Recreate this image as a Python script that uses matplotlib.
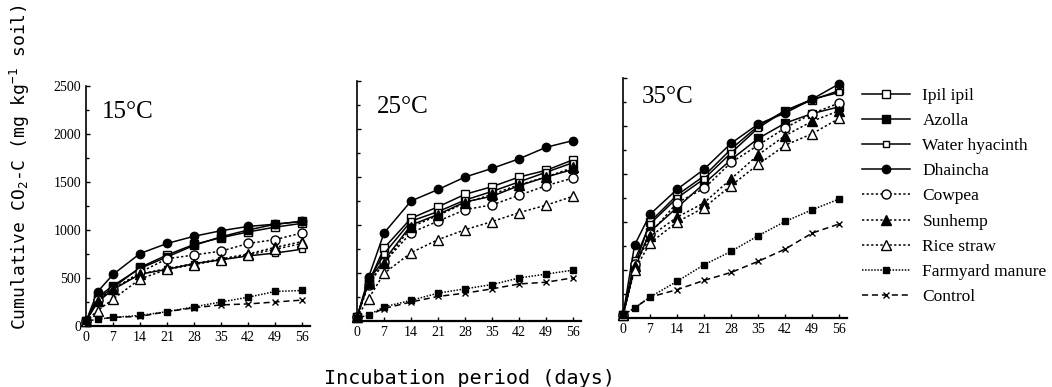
import matplotlib
matplotlib.use("Agg")
import matplotlib.pyplot as plt
from matplotlib.ticker import MultipleLocator

# sampling days
days = [0, 3, 7, 14, 21, 28, 35, 42, 49, 56]
temps = ["15°C", "25°C", "35°C"]

# cumulative CO2-C (mg kg-1 soil), one list per temperature
ipil_ipil = [
    [50, 280, 400, 610, 740, 850, 920, 980, 1030, 1070],
    [40, 400, 760, 1070, 1190, 1320, 1400, 1500, 1570, 1680],
    [30, 540, 1000, 1280, 1480, 1760, 2000, 2160, 2270, 2370],
]
azolla = [
    [50, 300, 420, 600, 720, 840, 930, 1000, 1060, 1090],
    [40, 430, 630, 1000, 1110, 1240, 1300, 1410, 1500, 1580],
    [30, 520, 900, 1150, 1400, 1650, 1870, 2030, 2130, 2200],
]
water_hyacinth = [
    [50, 250, 380, 540, 590, 650, 690, 730, 760, 800],
    [40, 420, 700, 1040, 1140, 1260, 1350, 1450, 1550, 1650],
    [30, 600, 980, 1250, 1450, 1720, 1980, 2160, 2280, 2350],
]
dhaincha = [
    [50, 357, 537, 755, 860, 935, 993, 1037, 1061, 1090],
    [40, 455, 917, 1250, 1370, 1500, 1590, 1690, 1810, 1880],
    [30, 760, 1080, 1340, 1550, 1820, 2020, 2135, 2280, 2440],
]
cowpea = [
    [50, 270, 380, 560, 700, 740, 780, 860, 900, 970],
    [40, 380, 610, 920, 1040, 1160, 1210, 1310, 1410, 1490],
    [30, 560, 880, 1200, 1350, 1620, 1800, 1980, 2130, 2240],
]
sunhemp = [
    [50, 260, 390, 540, 600, 650, 700, 750, 820, 880],
    [40, 400, 600, 980, 1100, 1230, 1320, 1420, 1500, 1600],
    [30, 540, 850, 1050, 1200, 1450, 1700, 1900, 2050, 2160],
]
rice_straw = [
    [50, 160, 280, 490, 590, 640, 690, 740, 800, 860],
    [40, 233, 496, 711, 848, 951, 1036, 1129, 1207, 1300],
    [30, 500, 780, 1000, 1150, 1380, 1600, 1800, 1920, 2080],
]
farmyard_manure = [
    [50, 70, 90, 110, 150, 200, 250, 300, 360, 370],
    [30, 62, 147, 215, 290, 335, 380, 448, 489, 530],
    [30, 104, 218, 382, 555, 694, 857, 1006, 1128, 1240],
]
control = [
    [50, 70, 90, 100, 150, 190, 220, 230, 250, 270],
    [30, 60, 130, 198, 256, 290, 335, 386, 404, 450],
    [30, 104, 218, 295, 392, 475, 590, 718, 885, 980],
]

series = [
    ("Ipil ipil", ipil_ipil, dict(ls="-", marker="s", mfc="white", ms=6)),
    ("Azolla", azolla, dict(ls="-", marker="s", mfc="black", ms=6)),
    ("Water hyacinth", water_hyacinth, dict(ls="-", marker="s", mfc="white", ms=4.5)),
    ("Dhaincha", dhaincha, dict(ls="-", marker="o", mfc="black", ms=6)),
    ("Cowpea", cowpea, dict(ls=(0, (1.5, 1.5)), marker="o", mfc="white", ms=6.5)),
    ("Sunhemp", sunhemp, dict(ls=(0, (1.5, 1.5)), marker="^", mfc="black", ms=6.5)),
    ("Rice straw", rice_straw, dict(ls=(0, (1.5, 1.5)), marker="^", mfc="white", ms=6.5)),
    ("Farmyard manure", farmyard_manure, dict(ls=(0, (1, 1)), marker="s", mfc="black", ms=4)),
    ("Control", control, dict(ls=(0, (4, 2.5)), marker="x", mfc="black", ms=5)),
]

plt.rcParams["mathtext.fontset"] = "custom"
plt.rcParams["mathtext.rm"] = "DejaVu Sans Mono"
plt.rcParams["mathtext.it"] = "DejaVu Sans Mono"

W, H = 1052, 387
fig = plt.figure(figsize=(W / 100, H / 100), dpi=100)

# panel placement in pixels: left, axis bottom
panel_px = [(86, 326), (357, 321), (623, 318)]
title_px = [(102, 112), (377, 107), (642, 97)]
serif = "Liberation Serif"

axes = []
for i, (lx, by) in enumerate(panel_px):
    ax = fig.add_axes([lx / W, (H - by) / H, 224 / W, 240 / H])
    axes.append(ax)
    for name, vals, st in series:
        ax.plot(days, vals[i], color="black", lw=1.1, ls=st["ls"], marker=st["marker"],
                mfc=st["mfc"], mec="black", ms=st["ms"], mew=1.0, label=name, clip_on=False)
    ax.set_xlim(0, 58)
    ax.set_ylim(0, 2500)
    ax.spines["top"].set_visible(False)
    ax.spines["right"].set_visible(False)
    ax.spines["left"].set_linewidth(1.2)
    ax.spines["bottom"].set_linewidth(1.6)
    ax.xaxis.set_major_locator(MultipleLocator(7))
    ax.yaxis.set_major_locator(MultipleLocator(500))
    ax.yaxis.set_minor_locator(MultipleLocator(250))
    ax.tick_params(direction="in", length=3, width=1, labelsize=10)
    ax.tick_params(which="minor", direction="in", length=2.5, width=1)
    for lab in ax.get_xticklabels() + ax.get_yticklabels():
        lab.set_family(serif)
    if i > 0:
        ax.set_yticklabels([])
    tx, ty = title_px[i]
    fig.text(tx / W, (H - ty) / H, temps[i], family=serif, fontsize=18, va="center", ha="left")

handles, labels = axes[2].get_legend_handles_labels()
fig.legend(handles, labels, loc="upper left", bbox_to_anchor=(846 / W, 1 - 72 / H),
           frameon=False, handlelength=2.8, handletextpad=0.7, labelspacing=0.52,
           prop={"family": serif, "size": 12.5})

fig.text(20 / W, 1 - 167 / H, "Cumulative CO$_2$-C (mg kg$^{-1}$ soil)", rotation=90,
         family="DejaVu Sans Mono", fontsize=13, ha="center", va="center")
fig.text(470 / W, 1 - 379 / H, "Incubation period (days)", family="DejaVu Sans Mono",
         fontsize=14.5, ha="center", va="center")

fig.savefig("out.png", dpi=100, facecolor="white")
